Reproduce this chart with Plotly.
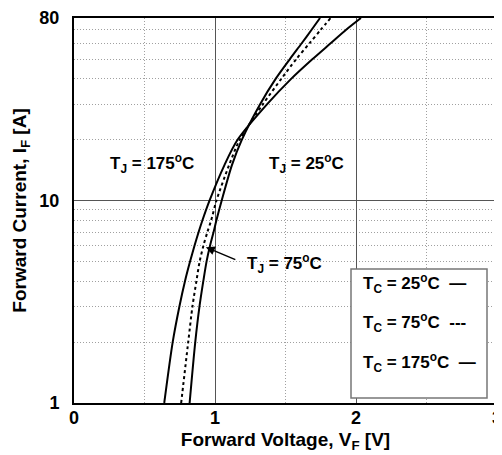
import plotly.graph_objects as go

# Forward current points [A]
I_F = [1, 2, 3, 4, 5, 6, 7, 8, 10, 15, 20, 30, 40, 50, 60, 70, 80]
# Forward voltage [V] for each case temperature
V_25 = [0.82, 0.86, 0.89, 0.917, 0.94, 0.965, 0.99, 1.01, 1.047, 1.12, 1.19, 1.32, 1.43, 1.53, 1.615, 1.685, 1.745]
V_75 = [0.76, 0.81, 0.84, 0.868, 0.891, 0.918, 0.946, 0.973, 1.01, 1.10, 1.175, 1.34, 1.47, 1.575, 1.67, 1.75, 1.82]
V_175 = [0.64, 0.70, 0.7475, 0.787, 0.823, 0.855, 0.884, 0.911, 0.961, 1.067, 1.16, 1.37, 1.54, 1.69, 1.82, 1.93, 2.035]

x_ticks = [0, 1, 2, 3]
y_ticks = [1, 10, 80]
y_minor = [2, 3, 4, 5, 6, 7, 8, 9, 20, 30, 40, 50, 60, 70]
x_minor = [0.5, 1.5, 2.5]

FONT = "Liberation Sans, Arial, sans-serif"

fig = go.Figure()
fig.add_trace(go.Scatter(x=V_25, y=I_F, mode="lines", line=dict(color="black", width=2, shape="spline", smoothing=0.8), name="25"))
fig.add_trace(go.Scatter(x=V_75, y=I_F, mode="lines", line=dict(color="black", width=2, dash="3px,3px", shape="spline", smoothing=0.8), name="75"))
fig.add_trace(go.Scatter(x=V_175, y=I_F, mode="lines", line=dict(color="black", width=2, shape="spline", smoothing=0.8), name="175"))

fig.update_layout(
    width=494, height=447,
    margin=dict(l=66, r=5, t=10, b=52),
    paper_bgcolor="white", plot_bgcolor="white",
    showlegend=False,
    font=dict(family=FONT, color="black", size=16),
    xaxis=dict(
        range=[0, 3], tickvals=x_ticks, ticktext=[str(v) for v in x_ticks],
        showgrid=True, gridcolor="#555555", gridwidth=1,
        showline=True, linecolor="black", linewidth=2, mirror=True,
        ticks="", ticklen=0, ticklabelstandoff=-3, ticklabeloverflow="allow",
        tickfont=dict(family=FONT, size=18, weight="bold"),
        zeroline=False, automargin=False,
        minor=dict(tickvals=x_minor, showgrid=True, gridcolor="#a0a0a0", griddash="1px,2px", gridwidth=1),
        title=dict(text="<b>Forward Voltage, V<sub>F</sub> [V]</b>", font=dict(family=FONT, size=19), standoff=6),
    ),
    yaxis=dict(
        type="log", range=[0, 1.90309], tickvals=y_ticks, ticktext=[str(v) for v in y_ticks],
        showgrid=True, gridcolor="#555555", gridwidth=1,
        showline=True, linecolor="black", linewidth=2, mirror=True,
        ticks="", ticklen=0, ticklabelstandoff=9, ticklabeloverflow="allow",
        tickfont=dict(family=FONT, size=18, weight="bold"),
        zeroline=False, automargin=False,
        minor=dict(tickvals=y_minor, showgrid=True, gridcolor="#a0a0a0", griddash="1px,2px", gridwidth=1),
        title=dict(text="<b>Forward Current, I<sub>F</sub> [A]</b>", font=dict(family=FONT, size=19), standoff=8),
    ),
)

ann_font = dict(family=FONT, size=17, color="black")
fig.add_annotation(x=0.55, y=1.186, yref="y", text="<b>T<sub>J</sub> = 175<sup>o</sup>C</b>", showarrow=False, font=ann_font)
fig.add_annotation(x=1.65, y=1.186, yref="y", text="<b>T<sub>J</sub> = 25<sup>o</sup>C</b>", showarrow=False, font=ann_font)
fig.add_annotation(x=1.21, y=0.692, yref="y", xanchor="left", text="<b>T<sub>J</sub> = 75<sup>o</sup>C</b>", showarrow=False, font=ann_font)
# arrow pointing to the 75 C curve
fig.add_annotation(x=0.935, y=0.77, yref="y", text="", showarrow=True, arrowhead=2, arrowsize=1.2, arrowwidth=1.5,
                   arrowcolor="black", ax=31, ay=13, standoff=0)

# legend box
fig.add_shape(type="rect", xref="paper", yref="paper", x0=(351-74)/423, x1=(487-74)/423,
              y0=(403-398)/385, y1=(403-269)/385, line=dict(color="#777777", width=1.5), fillcolor="white", layer="above")
leg_items = ["<b>T<sub>C</sub> = 25<sup>o</sup>C  —</b>", "<b>T<sub>C</sub> = 75<sup>o</sup>C  ---</b>", "<b>T<sub>C</sub> = 175<sup>o</sup>C  —</b>"]
leg_y = [298, 337, 377]
for t, yp in zip(leg_items, leg_y):
    fig.add_annotation(xref="paper", yref="paper", x=(361-74)/423, y=(403-yp)/385, xanchor="left",
                       text=t, showarrow=False, font=ann_font)

fig.write_html("out.html")
